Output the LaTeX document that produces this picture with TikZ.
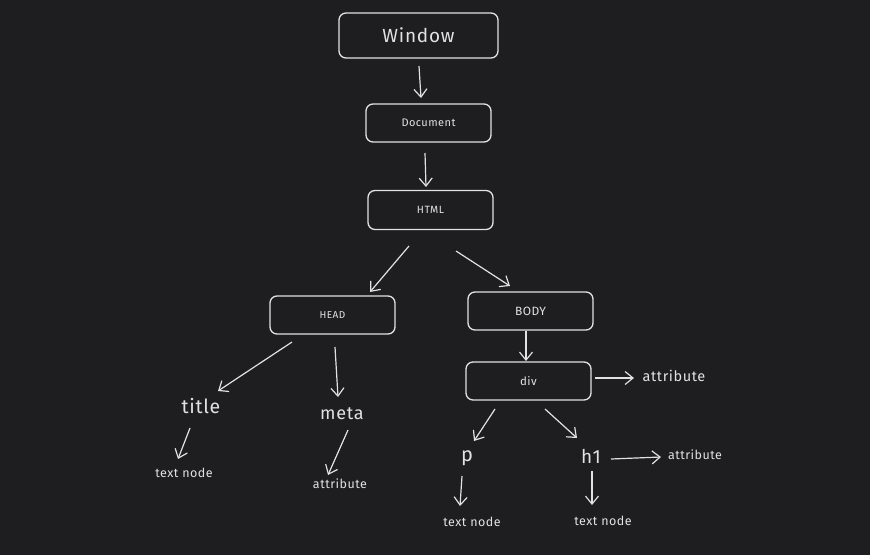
\documentclass[tikz,border=0pt]{standalone}
\usepackage{fontspec}
\setmainfont{Fira Sans}[LetterSpace=4]
\usetikzlibrary{arrows.meta}
\definecolor{bg}{HTML}{1E1E20}
\definecolor{ink}{HTML}{E2E2E4}
\tikzset{
  box/.style={draw=ink, line width=1.3pt, rounded corners=7pt, text=ink, inner sep=0pt},
  lbl/.style={text=ink, inner sep=1pt},
  arr/.style={draw=ink, line width=1.2pt, -{Straight Barb[length=8pt,width=13pt]}},
}
\begin{document}
\begin{tikzpicture}[x=1pt,y=-1pt]
\fill[bg] (0,0) rectangle (870,555);
\useasboundingbox (0,0) rectangle (870,555);
% boxes
\node[box, minimum width=159pt, minimum height=45pt, font=\fontsize{19}{22}\selectfont] (win) at (418.5,35.5) {Window};
\node[box, minimum width=125pt, minimum height=38pt, font=\fontsize{11}{13}\selectfont] (doc) at (428.5,123) {Document};
\node[box, minimum width=125pt, minimum height=39pt, font=\fontsize{10.5}{12}\selectfont] (html) at (430.5,210) {HTML};
\node[box, minimum width=125pt, minimum height=38pt, font=\fontsize{10}{12}\selectfont] (head) at (332.5,315) {HEAD};
\node[box, minimum width=125pt, minimum height=38pt, font=\fontsize{12}{14}\selectfont] (body) at (530.5,311) {BODY};
\node[box, minimum width=125pt, minimum height=38pt, font=\fontsize{11.5}{13}\selectfont] (div) at (528.5,381) {div};
% labels
\node[lbl, font=\fontsize{19.5}{22}\selectfont] (title) at (201,406) {title};
\node[lbl, font=\fontsize{18}{21}\selectfont] (meta) at (342,414) {meta};
\node[lbl, font=\fontsize{12.5}{15}\selectfont] (tn1) at (184,473) {text node};
\node[lbl, font=\fontsize{12.5}{15}\selectfont] (at1) at (340,484) {attribute};
\node[lbl, font=\fontsize{14.5}{17}\selectfont] (at2) at (674,376) {attribute};
\node[lbl, font=\fontsize{20}{23}\selectfont] (p) at (467,458) {p};
\node[lbl, font=\fontsize{19}{22}\selectfont] (h1) at (591,456) {h1};
\node[lbl, font=\fontsize{12.5}{15}\selectfont] (at3) at (695,455) {attribute};
\node[lbl, font=\fontsize{12.5}{15}\selectfont] (tn2) at (472,522) {text node};
\node[lbl, font=\fontsize{12.5}{15}\selectfont] (tn3) at (603,521) {text node};
% connector end points
\coordinate (a1s) at (419,66);  \coordinate (a1e) at (421,98);
\coordinate (a2s) at (425,153); \coordinate (a2e) at (426,187);
\coordinate (a3s) at (409,246); \coordinate (a3e) at (370,292);
\coordinate (a4s) at (456,251); \coordinate (a4e) at (510,286);
\coordinate (a5s) at (292,342); \coordinate (a5e) at (218,391);
\coordinate (a6s) at (335,347); \coordinate (a6e) at (338,397);
\coordinate (a7s) at (190,428); \coordinate (a7e) at (178,459);
\coordinate (a8s) at (348,430); \coordinate (a8e) at (328,475);
\coordinate (a9e) at (526,361);
\coordinate (a10s) at (595,378); \coordinate (a10e) at (634,378);
\coordinate (a11s) at (495,409); \coordinate (a11e) at (474,441);
\coordinate (a12s) at (545,409); \coordinate (a12e) at (577,438);
\coordinate (a13s) at (462,476); \coordinate (a13e) at (460,506);
\coordinate (a14s) at (592,471); \coordinate (a14e) at (592,505);
\coordinate (a15s) at (611,459); \coordinate (a15e) at (661,457);
% connectors
\draw[arr] (a1s) -- (a1e);
\draw[arr] (a2s) -- (a2e);
\draw[arr] (a3s) -- (a3e);
\draw[arr] (a4s) -- (a4e);
\draw[arr] (a5s) -- (a5e);
\draw[arr] (a6s) -- (a6e);
\draw[arr] (a7s) -- (a7e);
\draw[arr] (a8s) -- (a8e);
\draw[arr] (body.south -| a9e) -- (a9e);
\draw[arr] (a10s) -- (a10e);
\draw[arr] (a11s) -- (a11e);
\draw[arr] (a12s) -- (a12e);
\draw[arr] (a13s) -- (a13e);
\draw[arr] (a14s) -- (a14e);
\draw[arr] (a15s) -- (a15e);
\end{tikzpicture}
\end{document}
